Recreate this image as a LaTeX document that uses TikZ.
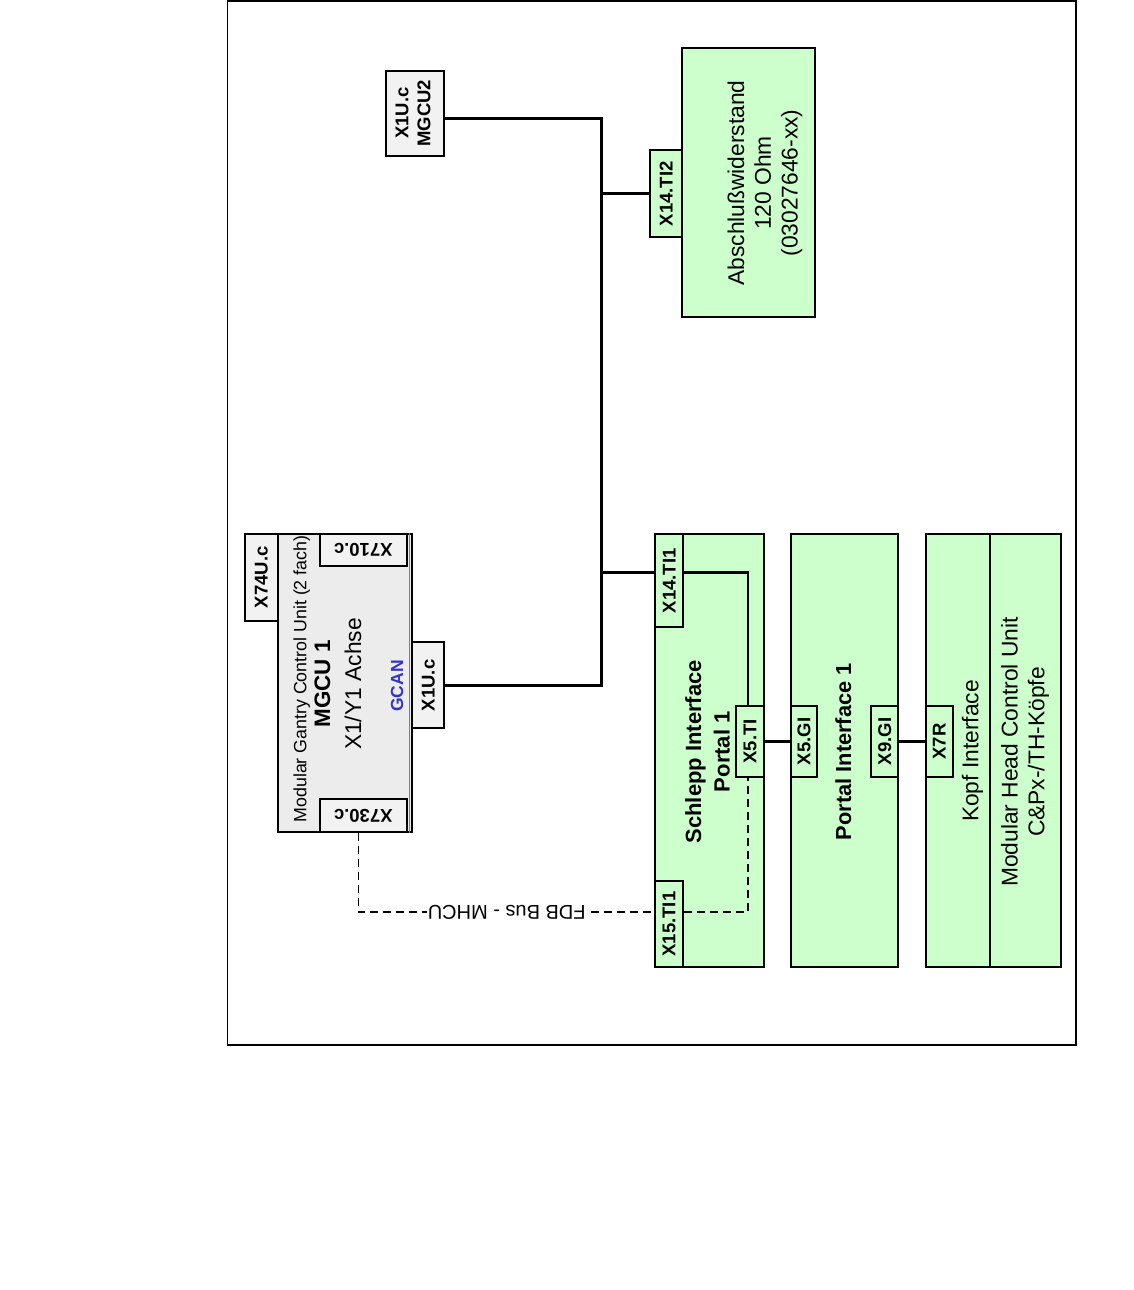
\documentclass[tikz,border=0pt]{standalone}
\usepackage{fontspec}
\setmainfont{Liberation Sans}
\definecolor{boxgreen}{RGB}{204,255,204}
\definecolor{boxgray}{RGB}{236,236,236}
\definecolor{portgray}{RGB}{242,242,242}
\definecolor{canblue}{RGB}{51,51,204}
\tikzset{
  box/.style={draw, line width=1.8pt, inner sep=0pt},
  gbox/.style={box, fill=boxgreen},
  graybox/.style={box, fill=boxgray},
  port/.style={box, font=\bfseries\fontsize{18.5}{22}\selectfont},
  bus/.style={line width=2.8pt},
  fdb/.style={line width=1.5pt, dash pattern=on 8pt off 5pt},
  txt/.style={font=\fontsize{22.8}{26.7}\selectfont, align=center, rotate=90, inner sep=0pt},
  btxt/.style={txt, font=\bfseries\fontsize{22}{28.4}\selectfont}
}
\begin{document}
\begin{tikzpicture}[x=1pt,y=-1pt]
    \useasboundingbox (0,0) rectangle (1134,1290);
    %FRAME
    \draw[line width=1.5pt] (227.5,1) rectangle (1076,1045);

    %MGCU2
    \node[port, fill=portgray, minimum width=58.6, minimum height=85] (mgcu2) at (415,113.2)
      {\rotatebox{90}{\begin{tabular}{@{}c@{}}X1U.c\\MGCU2\end{tabular}}};

    %ABSCHLUSS
    \node[gbox, minimum width=133, minimum height=268.7] (absch) at (748.8,182.7) {};
    \node[txt] (abschtxt) at (765,183) {Abschlußwiderstand\\120 Ohm\\(03027646-xx)};
    \node[port, fill=boxgreen, minimum width=32.3, minimum height=87.3] (x14ti2) at (666.2,193.7) {\rotatebox{90}{X14.TI2}};

    %MGCU1
    \node[graybox, minimum width=134, minimum height=297.7] (mgcu1) at (344.7,682.9) {};
    \draw[gray, line width=1.5pt] ([xshift=-3]mgcu1.north east) -- ([xshift=-3]mgcu1.south east);
    \node[txt, font=\fontsize{17.8}{20}\selectfont] (mgcutype) at (301.7,679) {Modular Gantry Control Unit (2 fach)};
    \node[txt, font=\bfseries\fontsize{22.4}{26}\selectfont] (mgcuname) at (322.5,684) {MGCU 1};
    \node[txt] (mgcuaxis) at (353,684) {X1/Y1 Achse};
    \node[txt, font=\bfseries\fontsize{17.5}{20}\selectfont, text=canblue] (gcan) at (397,686) {GCAN};
    \node[port, fill=portgray, minimum width=32.7, minimum height=86.7] (x74uc) at (261.3,577.3) {\rotatebox{90}{X74U.c}};
    \node[port, fill=portgray, minimum width=86.7, minimum height=32] (x710c) at (363.3,550) {\rotatebox{180}{X710.c}};
    \node[port, fill=portgray, minimum width=86.7, minimum height=32.4] (x730c) at (363.3,815.5) {\rotatebox{180}{X730.c}};
    \node[port, fill=portgray, minimum width=32, minimum height=86] (x1uc) at (428.3,685.3) {\rotatebox{90}{X1U.c}};

    %SCHLEPP INTERFACE
    \node[gbox, minimum width=109, minimum height=433.3] (schlepp) at (709.5,750.7) {};
    \node[btxt] (schlepptxt) at (707.5,751.7) {Schlepp Interface\\Portal 1};
    \node[port, fill=boxgreen, minimum width=28.3, minimum height=93.3] (x14ti1) at (669.2,580.7) {\rotatebox{90}{X14.TI1}};
    \node[port, fill=boxgreen, minimum width=28.3, minimum height=86.6] (x15ti1) at (669.2,924) {\rotatebox{90}{X15.TI1}};
    \node[port, fill=boxgreen, minimum width=28, minimum height=71.6] (x5ti) at (750,741.5) {\rotatebox{90}{X5.TI}};

    %PORTAL INTERFACE
    \node[gbox, minimum width=107.6, minimum height=433.3] (portal) at (844.5,750.7) {};
    \node[btxt, font=\bfseries\fontsize{21.8}{26}\selectfont] (portaltxt) at (843.3,751.7) {Portal Interface 1};
    \node[port, fill=boxgreen, minimum width=26.6, minimum height=71.6] (x5gi) at (804,741.5) {\rotatebox{90}{X5.GI}};
    \node[port, fill=boxgreen, minimum width=27.3, minimum height=71.6] (x9gi) at (884.7,741.5) {\rotatebox{90}{X9.GI}};

    %KOPF INTERFACE
    \node[gbox, minimum width=135, minimum height=433.3] (kopf) at (993.2,750.7) {};
    \draw[line width=1.8pt] (kopf.north -| 990,0) -- (kopf.south -| 990,0);
    \node[txt] (kopftxt) at (972.5,751) {Kopf Interface};
    \node[txt] (mhcutxt) at (1025,752) {Modular Head Control Unit\\C\&Px-/TH-Köpfe};
    \node[port, fill=boxgreen, minimum width=27, minimum height=71.6] (x7r) at (939.2,741.5) {\rotatebox{90}{X7R}};

    %GCAN BUS
    \coordinate (bustop) at (601.7,118.3);
    \coordinate (tap) at (601.7,572.3);
    \draw[bus] (mgcu2.east |- bustop) -- (bustop) |- (x1uc.east);
    \draw[bus] (x14ti2.west) -- (x14ti2.west -| bustop);
    \draw[bus] (tap) -- (tap -| x14ti1.west);
    \draw[bus] (tap -| x14ti1.east) -| ([xshift=-2]x5ti.north);
    \draw[bus] (x5ti.east) -- (x5gi.west);
    \draw[bus] (x9gi.east) -- (x7r.west);

    %FDB BUS
    \coordinate (fdbcorner) at (358.3,912);
    \draw[fdb] (x730c.south -| fdbcorner) -- (fdbcorner) -- (fdbcorner -| x15ti1.west);
    \draw[fdb] (x15ti1.east |- fdbcorner) -| ([xshift=-2]x5ti.south);
    \node[fill=white, inner sep=1pt, rotate=180, font=\fontsize{20}{22}\selectfont] (fdblbl) at (506.7,912) {FDB Bus - MHCU};
\end{tikzpicture}
\end{document}
